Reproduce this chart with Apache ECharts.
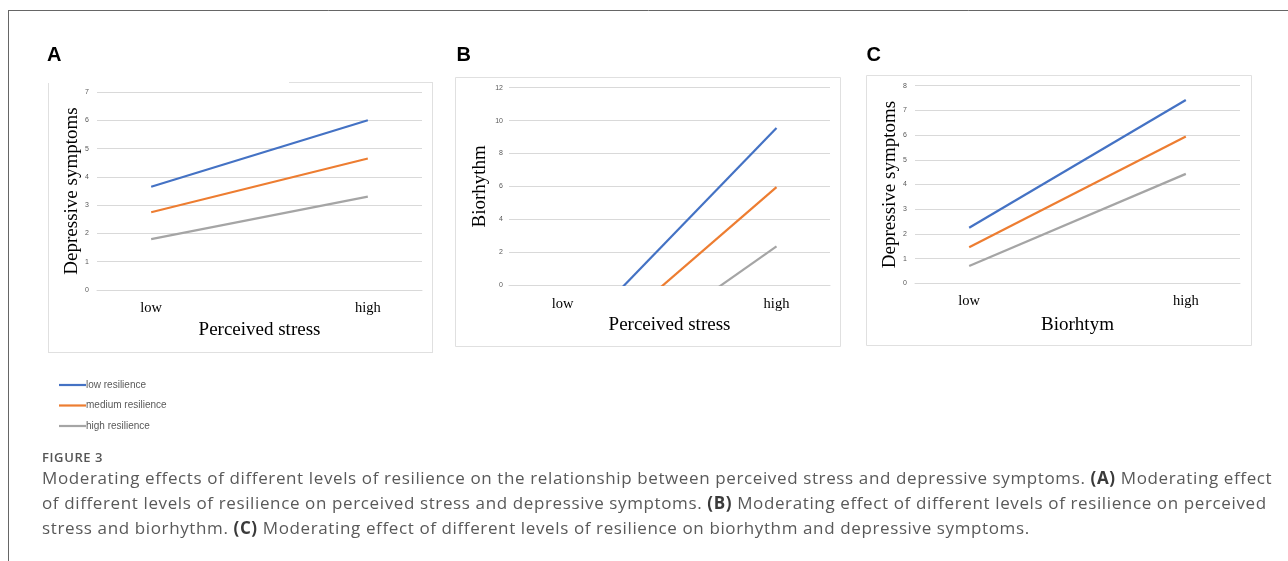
<!DOCTYPE html>
<html>
<head>
<meta charset="utf-8">
<script src="https://cdn.jsdelivr.net/npm/echarts@6/dist/echarts.min.js"></script>
<style>
html,body{margin:0;padding:0;background:#fff;}
#wrap{position:relative;width:1288px;height:561px;overflow:hidden;}
#chart{position:absolute;left:0;top:0;width:1288px;height:561px;}
.cap{position:absolute;left:42px;white-space:nowrap;font-family:"Open Sans",sans-serif;color:#595959;}
#capTitle{top:447px;font-size:13px;font-weight:600;letter-spacing:0.6px;color:#555;line-height:20px;}
.capLine{font-size:17px;letter-spacing:0.62px;line-height:25px;}
.capLine b{color:#3a3a3a;font-weight:700;}
</style>
</head>
<body>
<div id="wrap">
<div id="chart"></div>
<div id="capTitle" class="cap"></div>
<div id="capText"></div>
</div>
<script>
// ---- data ----
const categories = ['low', 'high'];
const seriesNames = ['low resilience', 'medium resilience', 'high resilience'];
const colors = ['#4472C4', '#ED7D31', '#A5A5A5'];

// Panel A: Perceived stress -> Depressive symptoms
const aLow = [3.65, 6.0];
const aMed = [2.75, 4.65];
const aHigh = [1.8, 3.3];
// Panel B: Perceived stress -> Biorhythm (low ends are below 0 and clipped)
const bLow = [-3.9, 9.55];
const bMed = [-5.3, 5.95];
const bHigh = [-6.8, 2.35];
// Panel C: Biorhythm -> Depressive symptoms
const cLow = [2.25, 7.42];
const cMed = [1.46, 5.94];
const cHigh = [0.7, 4.43];

const yMaxA = 7, yStepA = 1;
const yMaxB = 12, yStepB = 2;
const yMaxC = 8, yStepC = 1;

const xNames = ['Perceived stress', 'Perceived stress', 'Biorhtym'];
const yNames = ['Depressive symptoms', 'Biorhythm', 'Depressive symptoms'];
const panelLetters = ['A', 'B', 'C'];

const captionTitle = 'FIGURE 3';
const captionLines = [
  [['n', 'Moderating effects of different levels of resilience on the relationship between perceived stress and depressive symptoms. '], ['b', '(A)'], ['n', ' Moderating effect']],
  [['n', 'of different levels of resilience on perceived stress and depressive symptoms. '], ['b', '(B)'], ['n', ' Moderating effect of different levels of resilience on perceived']],
  [['n', 'stress and biorhythm. '], ['b', '(C)'], ['n', ' Moderating effect of different levels of resilience on biorhythm and depressive symptoms.']]
];

// ---- caption (HTML text) ----
document.getElementById('capTitle').textContent = captionTitle;
const capTop = [465, 490, 515];
const capHost = document.getElementById('capText');
captionLines.forEach((segs, i) => {
  const d = document.createElement('div');
  d.className = 'cap capLine';
  d.style.top = capTop[i] + 'px';
  segs.forEach(s => {
    const el = document.createElement(s[0] === 'b' ? 'b' : 'span');
    el.textContent = s[1];
    d.appendChild(el);
  });
  capHost.appendChild(d);
});

// ---- build chart ----
const panels = [
  { data: [aLow, aMed, aHigh], max: yMaxA, step: yStepA },
  { data: [bLow, bMed, bHigh], max: yMaxB, step: yStepB },
  { data: [cLow, cMed, cHigh], max: yMaxC, step: yStepC }
];

const grids = [
  { left: 97, width: 325, top: 92, height: 198 },
  { left: 509, width: 321, top: 87.7, height: 197.3 },
  { left: 915, width: 325, top: 85.7, height: 197.6 }
];
const yNameGaps = [14, 19, 15];
const xNameGaps = [31, 31, 32];
const xLabelMargins = [10.5, 11.5, 10.5];
const yLabelMargins = [8, 6, 8];

const serif = '"Liberation Serif", "Times New Roman", serif';
const gridColor = '#d9d9d9';

const xAxes = [], yAxes = [], series = [];
panels.forEach((p, i) => {
  xAxes.push({
    type: 'value', gridIndex: i, min: -0.25, max: 1.25,
    splitLine: { show: false }, axisTick: { show: false },
    axisLine: { show: true, lineStyle: { color: gridColor, width: 1 } },
    axisLabel: {
      customValues: [0, 1],
      formatter: v => categories[Math.round(v)] || '',
      fontFamily: serif, fontSize: 14.5, color: '#000', margin: xLabelMargins[i]
    },
    name: xNames[i], nameLocation: 'middle', nameGap: xNameGaps[i],
    nameTextStyle: { fontFamily: serif, fontSize: 19, color: '#000' }
  });
  yAxes.push({
    type: 'value', gridIndex: i, min: 0, max: p.max, interval: p.step,
    splitLine: { show: true, lineStyle: { color: gridColor, width: 1 } },
    axisLine: { show: false }, axisTick: { show: false },
    axisLabel: { fontSize: 7, color: '#595959', margin: yLabelMargins[i], fontFamily: '"Liberation Sans", Arial, sans-serif' },
    name: yNames[i], nameLocation: 'middle', nameGap: yNameGaps[i],
    nameTextStyle: { fontFamily: serif, fontSize: 19, color: '#000' }
  });
  p.data.forEach((vals, k) => {
    series.push({
      type: 'line', name: seriesNames[k], xAxisIndex: i, yAxisIndex: i,
      data: vals.map((v, j) => [j, v]),
      symbol: 'none', clip: true, silent: true, animation: false,
      lineStyle: { color: colors[k], width: 2.2 },
      itemStyle: { color: colors[k] }
    });
  });
});

const boxStyle = { stroke: '#e0e0e0', lineWidth: 1, fill: null };
function line(x1, y1, x2, y2, style) {
  return { type: 'line', shape: { x1, y1, x2, y2 }, style: style, silent: true };
}
const graphics = [
  // outer frame
  line(8, 10.5, 1300, 10.5, { stroke: '#666', lineWidth: 1 }),
  line(8.5, 10, 8.5, 570, { stroke: '#666', lineWidth: 1 }),
  // panel A box (top edge only partly drawn, as in the source)
  line(48.5, 83, 48.5, 352.5, boxStyle),
  line(48, 352.5, 433, 352.5, boxStyle),
  line(432.5, 82, 432.5, 352.5, boxStyle),
  line(289, 82.5, 433, 82.5, boxStyle),
  // panel B box
  { type: 'rect', shape: { x: 455.5, y: 77.5, width: 385, height: 269 }, style: boxStyle, silent: true },
  // panel C box
  { type: 'rect', shape: { x: 866.5, y: 75.5, width: 385, height: 270 }, style: boxStyle, silent: true }
];
const letterX = [47, 456.5, 866.5];
panelLetters.forEach((L, i) => {
  graphics.push({
    type: 'text', x: letterX[i], y: 55, silent: true,
    style: { text: L, fontFamily: '"Liberation Sans", Arial, sans-serif', fontWeight: 'bold', fontSize: 20, fill: '#000', verticalAlign: 'middle' }
  });
});

const chart = echarts.init(document.getElementById('chart'), null, { renderer: 'canvas' });
chart.setOption({
  backgroundColor: '#fff',
  animation: false,
  grid: grids,
  xAxis: xAxes,
  yAxis: yAxes,
  legend: {
    orient: 'vertical', left: 54, top: 374,
    icon: 'rect', itemWidth: 27, itemHeight: 2.2, itemGap: 8.5,
    data: seriesNames,
    selectedMode: false,
    textStyle: { fontSize: 10, color: '#595959', fontFamily: '"Liberation Sans", Arial, sans-serif', lineHeight: 12, padding: [0, 0, 0, -5] }
  },
  series: series,
  graphic: graphics
});
</script>
</body>
</html>
